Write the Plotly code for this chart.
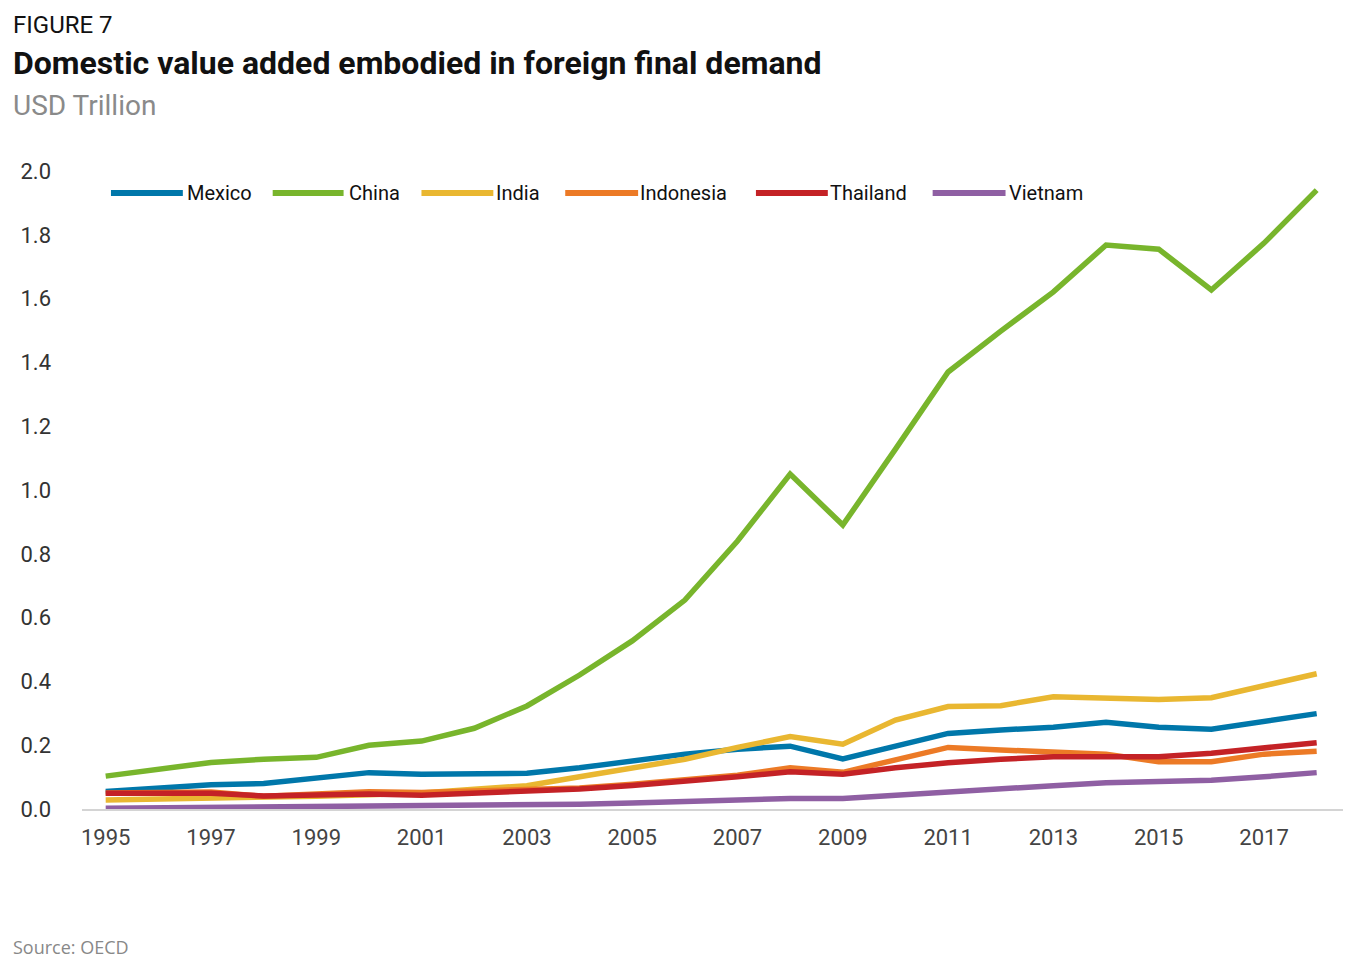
import plotly.graph_objects as go

years = list(range(1995, 2019))

mexico = [0.055, 0.067, 0.076, 0.080, 0.095, 0.114, 0.109, 0.111, 0.112, 0.129, 0.151, 0.172,
          0.187, 0.197, 0.157, 0.197, 0.237, 0.248, 0.256, 0.272, 0.256, 0.250, 0.273, 0.299]
china = [0.103, 0.124, 0.146, 0.156, 0.162, 0.200, 0.213, 0.253, 0.323, 0.420, 0.527, 0.655,
         0.840, 1.050, 0.890, 1.128, 1.370, 1.498, 1.621, 1.768, 1.755, 1.627, 1.774, 1.940]
india = [0.028, 0.030, 0.034, 0.035, 0.040, 0.045, 0.050, 0.062, 0.073, 0.101, 0.129, 0.156,
         0.193, 0.227, 0.203, 0.279, 0.321, 0.324, 0.352, 0.349, 0.343, 0.349, 0.387, 0.424]
indonesia = [0.050, 0.052, 0.053, 0.040, 0.045, 0.054, 0.052, 0.057, 0.060, 0.066, 0.078, 0.092,
             0.106, 0.129, 0.115, 0.154, 0.193, 0.185, 0.180, 0.172, 0.148, 0.148, 0.172, 0.181]
thailand = [0.049, 0.049, 0.049, 0.041, 0.044, 0.047, 0.043, 0.049, 0.054, 0.063, 0.074, 0.086,
            0.101, 0.117, 0.109, 0.129, 0.145, 0.156, 0.164, 0.164, 0.164, 0.175, 0.193, 0.208]
vietnam = [0.002, 0.003, 0.004, 0.006, 0.008, 0.009, 0.010, 0.011, 0.013, 0.015, 0.019, 0.024,
           0.028, 0.033, 0.033, 0.044, 0.052, 0.064, 0.073, 0.082, 0.085, 0.090, 0.101, 0.114]

series_names = ["Mexico", "China", "India", "Indonesia", "Thailand", "Vietnam"]
series_values = [mexico, china, india, indonesia, thailand, vietnam]
series_colors = ["#0077AA", "#78B52C", "#E9B731", "#EC7A26", "#C42226", "#8F5FA3"]

x_tickvals = list(range(1995, 2018, 2))
y_tickvals = [0.0, 0.2, 0.4, 0.6, 0.8, 1.0, 1.2, 1.4, 1.6, 1.8, 2.0]

FONT = "Roboto"

# The page adds an 8px body margin, so the figure is 8px smaller and margins shifted.
W, H = 1357, 959
ML, MR, MT, MB = 72, 22, 163, 158
PW = W - ML - MR  # plot width in px


def px_to_paper_x(px):
    """Page pixel x -> paper coordinate."""
    return (px - 8 - ML) / PW


fig = go.Figure()
for name, vals, col in zip(series_names, series_values, series_colors):
    fig.add_trace(go.Scatter(
        x=years, y=vals, name=name, mode="lines",
        line=dict(color=col, width=5.5), hoverinfo="x+y+name", showlegend=False,
    ))

fig.update_layout(
    width=W, height=H,
    margin=dict(l=ML, r=MR, t=MT, b=MB, pad=0),
    paper_bgcolor="white", plot_bgcolor="white",
    font=dict(family=FONT, color="#333333"),
    showlegend=False,
    xaxis=dict(
        range=[1994.55, 2018.5], tickvals=x_tickvals, ticktext=[str(v) for v in x_tickvals],
        showgrid=False, zeroline=False, showline=True, linecolor="#D4D4D4", linewidth=2,
        ticks="", tickfont=dict(size=22, color="#444444", family=FONT), ticklabelstandoff=8,
    ),
    yaxis=dict(
        range=[0, 2.0], tickvals=y_tickvals, ticktext=[f"{v:.1f}" for v in y_tickvals],
        showgrid=False, zeroline=False, showline=False, ticks="",
        tickfont=dict(size=22, color="#333333", family=FONT), ticklabelstandoff=30,
    ),
)

# Legend drawn as a row of line swatches and labels (long swatches as in the original)
legend_y = 0.9655
legend_line_px = [(109, 181), (271, 342), (420, 492), (564, 637), (755, 827), (932, 1005)]
legend_text_px = [183, 345, 493, 637, 827, 1006]
for name, col, (x0, x1), tx in zip(series_names, series_colors, legend_line_px, legend_text_px):
    fig.add_shape(
        type="line", xref="paper", yref="paper",
        x0=px_to_paper_x(x0), x1=px_to_paper_x(x1), y0=legend_y, y1=legend_y,
        line=dict(color=col, width=6),
    )
    fig.add_annotation(
        text=name, xref="paper", yref="paper", x=px_to_paper_x(tx), y=legend_y,
        xanchor="left", yanchor="middle", showarrow=False,
        font=dict(size=20, color="#111111", family=FONT),
    )

tx0 = px_to_paper_x(9)
annotations = [
    dict(text="FIGURE 7", y=1.2288, size=24, color="#111111", family=FONT),
    dict(text="<b>Domestic value added embodied in foreign final demand</b>", y=1.1693,
         size=32, color="#111111", family=FONT),
    dict(text="USD Trillion", y=1.1034, size=28, color="#8A8A8A", family=FONT),
    dict(text="Source: OECD", y=-0.2163, size=18, color="#888888", family="Open Sans"),
]
for a in annotations:
    fig.add_annotation(
        text=a["text"], xref="paper", yref="paper", x=tx0, y=a["y"],
        xanchor="left", yanchor="middle", showarrow=False,
        font=dict(size=a["size"], color=a["color"], family=a["family"]),
    )

fig.write_html("out.html")
